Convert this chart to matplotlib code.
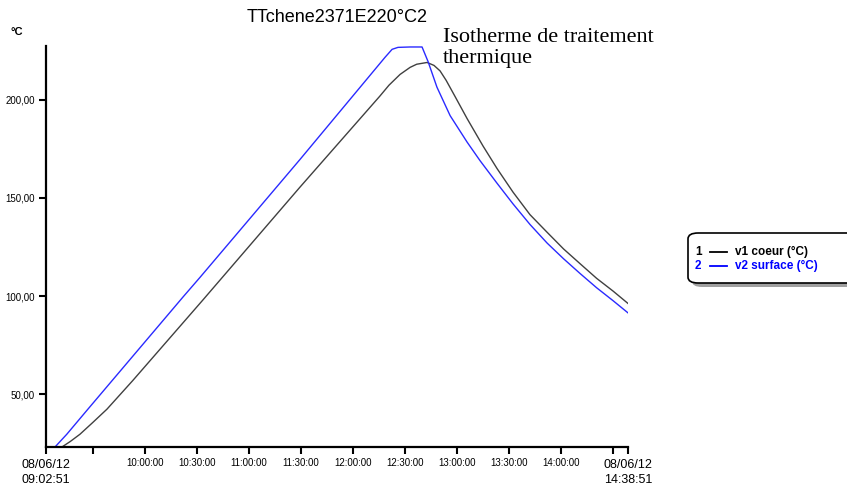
import numpy as np
import pandas as pd
import matplotlib
matplotlib.use("Agg")
from matplotlib import pyplot as plt
from matplotlib.patches import FancyBboxPatch
from matplotlib.lines import Line2D

plt.rcParams['font.family'] = ['Liberation Sans', 'DejaVu Sans']

# minutes after 08/06/12 09:02:51 and temperature (degC)
t_surface = [0, 5.2, 12, 24.2, 79.1, 88.9, 146.6, 195.7, 199.8, 203.2, 210.2, 217.1,
             220.6, 225.7, 233.3, 243.1, 250.6, 260.4, 269.6, 279.4, 289.3,
             298.8, 308.3, 317.9, 327.4, 336]
v_surface = [23, 23, 29.5, 42.3, 99.5, 109.5, 169.6, 221.7, 225.8, 226.8, 227.0, 227.0,
             219.5, 206.5, 192.0, 178.5, 169.0, 157.5, 147.0, 136.5, 127.0,
             119.0, 111.5, 104.2, 97.6, 91.4]

t_coeur = [0, 9.2, 14, 19.6, 27, 35.2, 50, 90.6, 146.6, 192.8, 198, 204.4, 210.2, 214, 220,
           224, 227.5, 231, 236, 243.1, 252.3, 260.4, 269.6, 279.4, 289.3, 298.8,
           308.3, 317.9, 327.4, 336]
v_coeur = [22, 23, 25.8, 29.5, 35.5, 42.3, 56.8, 98, 155.5, 202, 207.5, 213, 216.6, 218.2, 219.1,
           217.6, 214.8, 210.0, 202.0, 190.5, 176.5, 165.0, 153.0, 141.5, 132.5,
           124.0, 116.5, 109.0, 102.5, 96.2]

yticks = [50, 100, 150, 200]
ytick_labels = ["50,00", "100,00", "150,00", "200,00"]
xtick_times = ["09:30", "10:00", "10:30", "11:00", "11:30", "12:00",
               "12:30", "13:00", "13:30", "14:00", "14:30"]
xtick_labels = ["", "10:00:00", "10:30:00", "11:00:00", "11:30:00", "12:00:00",
                "12:30:00", "13:00:00", "13:30:00", "14:00:00", ""]

start = pd.Timestamp("2012-06-08 09:02:51")
end = pd.Timestamp("2012-06-08 14:38:51")

W, H = 847, 486
fig = plt.figure(figsize=(W / 100, H / 100), dpi=100)
ax = fig.add_axes([46 / W, 1 - 447 / H, (628 - 46) / W, (447 - 46) / H])

ts = start + pd.to_timedelta(t_coeur, unit="min")
tb = start + pd.to_timedelta(t_surface, unit="min")
ax.plot(ts, v_coeur, color="#404040", lw=1.0)
ax.plot(tb, v_surface, color="#2a2aff", lw=1.0)

ax.set_xlim(start, end)
ax.set_ylim(23, 227.5)

for s in ["top", "right"]:
    ax.spines[s].set_visible(False)
for s in ["left", "bottom"]:
    ax.spines[s].set_linewidth(1.6)

ax.set_yticks(yticks)
ax.set_yticklabels(ytick_labels, fontsize=7)
xt = [pd.Timestamp("2012-06-08 " + h) for h in xtick_times]
xt = [start] + xt + [end]
ax.set_xticks(xt)
ax.set_xticklabels([""] + xtick_labels + [""], fontsize=7)
ax.tick_params(direction="out", length=5, width=1.5, pad=3)

# endpoint date labels
ax.text(start, -0.03, "08/06/12\n09:02:51", transform=ax.get_xaxis_transform(),
        ha="center", va="top", fontsize=9, linespacing=1.35)
ax.text(end, -0.03, "08/06/12\n14:38:51", transform=ax.get_xaxis_transform(),
        ha="center", va="top", fontsize=9, linespacing=1.35)

fig.text(337 / W, 1 - 18 / H, "TTchene2371E220°C2", ha="center", va="center", fontsize=13)
fig.text(10 / W, 1 - 32 / H, "°C", ha="left", va="center", fontsize=8, fontweight="bold")

fig.text(443 / W, 1 - 28 / H, "Isotherme de traitement\nthermique", ha="left", va="top",
         fontsize=16, family="Liberation Serif", linespacing=1.15)

# legend box
shadow = FancyBboxPatch((692 / W, 1 - 287 / H), 200 / W, 50 / H,
                        boxstyle="round,pad=0,rounding_size=0.012",
                        transform=fig.transFigure, facecolor="#a0a0a0", edgecolor="none")
box = FancyBboxPatch((688 / W, 1 - 283 / H), 200 / W, 50 / H,
                     boxstyle="round,pad=0,rounding_size=0.012",
                     transform=fig.transFigure, facecolor="white", edgecolor="black", lw=1.2)
fig.patches.extend([shadow, box])
for i, (lab, col, y) in enumerate([("v1 coeur (°C)", "black", 252), ("v2 surface (°C)", "blue", 266)]):
    fig.text(695 / W, 1 - y / H, str(i + 1), color=col, fontsize=8.5, fontweight="bold",
             ha="left", va="center")
    fig.lines.append(Line2D([710 / W, 727 / W], [1 - y / H, 1 - y / H], color=col, lw=1.3,
                            transform=fig.transFigure))
    fig.text(735 / W, 1 - y / H, lab, color=col, fontsize=8.5, fontweight="bold",
             ha="left", va="center")

fig.savefig("out.png", dpi=100)
